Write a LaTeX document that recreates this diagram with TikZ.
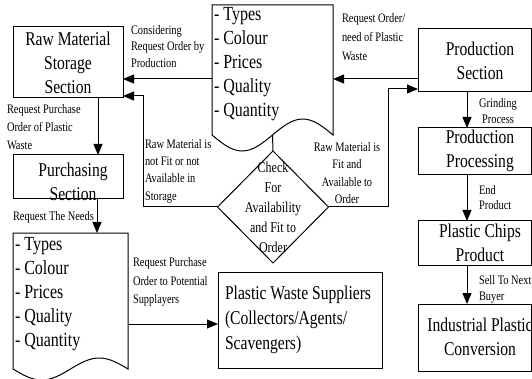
\documentclass[tikz,border=0pt]{standalone}
\usepackage{fontspec}
\setmainfont{Liberation Serif}[FakeStretch=0.8]
\usetikzlibrary{arrows.meta,shapes.geometric,calc}
\begin{document}
\begin{tikzpicture}[x=1pt,y=-1pt,
  every node/.style={inner sep=0pt, outer sep=0pt},
  box/.style={draw, line width=1pt, rectangle},
  bigtxt/.style={font=\fontsize{19.5}{24}\selectfont, align=center},
  listtxt/.style={font=\fontsize{20}{24}\selectfont, align=left, anchor=west},
  lbl/.style={font=\fontsize{13}{16.5}\selectfont, align=left, anchor=west},
  arr/.style={line width=1pt, -{Triangle[length=11pt,width=9pt]}},
  ln/.style={line width=1pt}]
\useasboundingbox (0,0) rectangle (532,379);

% boxes
\node[box, minimum width=110pt, minimum height=71pt] (raw) at (68,62.5) {};
\node[bigtxt] (rawt) at (raw.center) {Raw Material\\Storage\\Section};

\node[box, minimum width=110pt, minimum height=44pt] (pur) at (68,177) {};
\node[bigtxt] (purt) at (73,181.5) {Purchasing\\Section};

\node[box, minimum width=113pt, minimum height=63pt] (prod) at (474.5,60.5) {};
\node[bigtxt] (prodt) at (480,61) {Production\\Section};

\node[box, minimum width=113pt, minimum height=47pt] (pp) at (474.5,151.5) {};
\node[bigtxt] (ppt) at (480,151) {Production\\Processing};

\node[box, minimum width=113pt, minimum height=44pt] (pcp) at (474.5,243) {};
\node[bigtxt] (pcpt) at (480,243) {Plastic Chips\\Product};

\node[box, minimum width=113pt, minimum height=67pt] (ipc) at (474.5,337.5) {};
\node[bigtxt] (ipct) at (480,337) {Industrial Plastic\\Conversion};

\node[box, minimum width=164pt, minimum height=96pt] (sup) at (300,320) {};
\node[listtxt, font=\fontsize{19.5}{25}\selectfont] (supt) at (225,320) {Plastic Waste Suppliers\\(Collectors/Agents/\\Scavengers)};

% documents
\node[minimum width=121pt, minimum height=130pt, anchor=north west] (doc1) at (212,5) {};
\draw[ln] (doc1.south west) -- (doc1.north west) -- (doc1.north east) -- (doc1.south east)
  sin ($(doc1.south east)+(-30.25,-16)$) cos (doc1.south)
  sin ($(doc1.south west)+(30.25,16)$) cos (doc1.south west) -- cycle;
\node[listtxt] (doc1t) at (214,64) {- Types\\- Colour\\- Prices\\- Quality\\- Quantity};

\node[minimum width=115pt, minimum height=136pt, anchor=north west] (doc2) at (13,233) {};
\draw[ln] (doc2.south west) -- (doc2.north west) -- (doc2.north east) -- (doc2.south east)
  sin ($(doc2.south east)+(-28.75,-11)$) cos (doc2.south)
  sin ($(doc2.south west)+(28.75,11)$) cos (doc2.south west) -- cycle;
\node[listtxt] (doc2t) at (15,294.5) {- Types\\- Colour\\- Prices\\- Quality\\- Quantity};

% decision
\node[draw, diamond, line width=1pt, minimum width=111pt, minimum height=112pt] (chk) at (273,207) {};
\node[font=\fontsize{15}{20}\selectfont, align=center] (chkt) at (273,207) {Check\\For\\Availability\\and Fit to\\Order};

% labels
\node[lbl] (l1) at (131,46.5) {Considering\\Request Order by\\Production};
\node[lbl, font=\fontsize{13}{19}\selectfont] (l2) at (342,37.5) {Request Order/\\need of Plastic\\Waste};
\node[lbl, font=\fontsize{13}{17.3}\selectfont] (l3) at (145,171) {Raw Material is\\not Fit or not\\Available in\\Storage};
\node[lbl, font=\fontsize{13}{17.5}\selectfont, align=center, anchor=center] (l4) at (347,173) {Raw Material is\\Fit and\\Available to\\Order};
\node[lbl, font=\fontsize{13}{18}\selectfont] (l5) at (7,127) {Request Purchase\\Order of Plastic\\Waste};
\node[lbl] (l6) at (13,217) {Request The Needs};
\node[lbl, font=\fontsize{13}{18.5}\selectfont] (l7) at (133,282) {Request Purchase\\Order to Potential\\Supplayers};
\node[lbl, font=\fontsize{13}{16}\selectfont, align=center, anchor=center] (l8) at (498,111) {Grinding\\Process};
\node[lbl, font=\fontsize{13}{15.5}\selectfont] (l9) at (479,197.5) {End\\Product};
\node[lbl, font=\fontsize{13}{16}\selectfont] (l10) at (479,289) {Sell To Next\\Buyer};

% helper coordinates
\coordinate (yTop) at (0,79);
\coordinate (cL) at (143,96);
\coordinate (cR) at (388,89);
\coordinate (xL1) at (98,0);
\coordinate (xL2) at (97,0);
\coordinate (ySup) at (0,324);
\coordinate (xR) at (467,0);

% connectors
\draw[arr] (doc1.west |- yTop) -- (raw.east |- yTop);
\draw[arr] (prod.west |- yTop) -- (doc1.east |- yTop);
\draw[ln] (doc1.south) -- (chk.north);
\draw[arr] (chk.west) -| (cL) -- (raw.east |- cL);
\draw[arr] (chk.east) -| (cR) -- (prod.west |- cR);
\draw[arr] (raw.south -| xL1) -- (pur.north -| xL1);
\draw[arr] (pur.south -| xL2) -- (doc2.north -| xL2);
\draw[arr] (doc2.east |- ySup) -- (sup.west |- ySup);
\draw[arr] (prod.south -| xR) -- (pp.north -| xR);
\draw[arr] (pp.south -| xR) -- (pcp.north -| xR);
\draw[arr] (pcp.south -| xR) -- (ipc.north -| xR);
\end{tikzpicture}
\end{document}
